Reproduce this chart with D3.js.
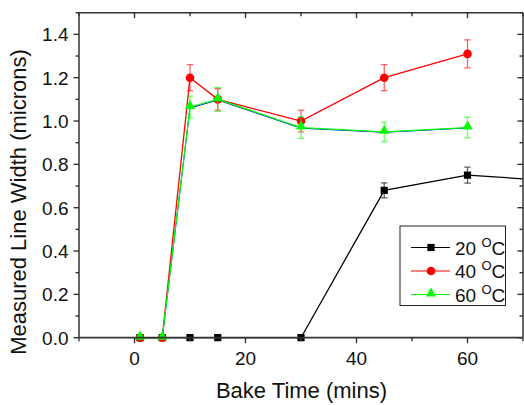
<!DOCTYPE html>
<html><head><meta charset="utf-8">
<script src="https://cdn.jsdelivr.net/npm/d3@7"></script>
<style>
body{margin:0;background:#fff;}
svg{display:block;font-family:Arial,"Liberation Sans",sans-serif;}
</style></head>
<body><svg id="c" width="524" height="405"></svg>
<script>
const bakeTimes = [1, 5, 10, 15, 30, 45, 60, 90];
const series20 = [0, 0, 0, 0, 0, 0.68, 0.75, 0.70];
const err20 = [0, 0, 0, 0, 0, 0.035, 0.037, 0];
const series40 = [0, 0, 1.20, 1.10, 1.00, 1.20, 1.31];
const err40 = [0, 0, 0.06, 0.05, 0.05, 0.06, 0.065];
const series60 = [0, 0, 1.065, 1.10, 0.97, 0.95, 0.97];
const err60 = [0, 0, 0.05, 0.055, 0.05, 0.045, 0.048];
const seriesBlue = [0, 0, 1.06, 1.097, 0.967, 0.948, 0.968];
const xTicks = [0, 20, 40, 60];
const yTicks = [0.0, 0.2, 0.4, 0.6, 0.8, 1.0, 1.2, 1.4];
const legendLabels = ["20", "40", "60"];

const svg = d3.select("#c");
const L = 79, R = 523, T = 12.7, B = 337.7;
const x = d3.scaleLinear().domain([-10, 70]).range([L, R]);
const y = d3.scaleLinear().domain([0, 1.5]).range([B, T]);

svg.append("defs").append("clipPath").attr("id","clip")
  .append("rect").attr("x", L).attr("y", T - 10).attr("width", R - L).attr("height", B - T + 20);

const plot = svg.append("g").attr("clip-path","url(#clip)");

function mk(vals){ return vals.map((v,i)=>({x:bakeTimes[i], y:v})); }
const line = d3.line().x(d=>x(d.x)).y(d=>y(d.y));

const defs = [
  {vals:series20, err:err20, color:"#000000", shape:"square"},
  {vals:series40, err:err40, color:"#ff0000", shape:"circle"},
  {vals:seriesBlue, err:null, color:"#0000ff", shape:null},
  {vals:series60, err:err60, color:"#00ff00", shape:"triangle"}
];

defs.forEach(s=>{
  const d = mk(s.vals);
  plot.append("path").datum(d).attr("d", line).attr("fill","none")
    .attr("stroke", s.color).attr("stroke-width", s.shape ? 1.3 : 1);
  if (s.err) {
    const eg = plot.append("g").attr("stroke", s.color).attr("stroke-opacity", 0.6).attr("stroke-width", 1.3);
    d.forEach((p,i)=>{
      const e = s.err[i]; if(!e) return;
      const cx = x(p.x);
      eg.append("line").attr("x1",cx).attr("x2",cx).attr("y1",y(p.y+e)).attr("y2",y(p.y-e));
      eg.append("line").attr("x1",cx-3.3).attr("x2",cx+3.3).attr("y1",y(p.y+e)).attr("y2",y(p.y+e));
      eg.append("line").attr("x1",cx-3.3).attr("x2",cx+3.3).attr("y1",y(p.y-e)).attr("y2",y(p.y-e));
    });
  }
  if (s.shape) {
    const sym = s.shape==="square" ? d3.symbol(d3.symbolSquare, 52)
      : s.shape==="circle" ? d3.symbol(d3.symbolCircle, 58)
      : d3.symbol(d3.symbolTriangle, 46);
    plot.selectAll(null).data(d).enter().append("path")
      .attr("d", sym)
      .attr("transform", p=>`translate(${x(p.x)},${y(p.y) + (s.shape==="triangle"? -1:0)})`)
      .attr("fill", s.color);
  }
});

// axes
const axCol = "#333";
const xMinor = d3.range(-10, 71, 10);
const yMinor = d3.range(0, 1.51, 0.1);
const ax = svg.append("g").attr("stroke", axCol).attr("stroke-width", 1.4);
ax.append("line").attr("x1",L).attr("x2",R).attr("y1",B).attr("y2",B).attr("stroke-width",1.8);
ax.append("line").attr("x1",L).attr("x2",R).attr("y1",T).attr("y2",T).attr("stroke-width",1.5);
ax.append("line").attr("x1",L).attr("x2",L).attr("y1",T).attr("y2",B).attr("stroke-width",1.5);
ax.append("line").attr("x1",R).attr("x2",R).attr("y1",T).attr("y2",B).attr("stroke-width",1.5);
xMinor.forEach(v=>{
  const major = v % 20 === 0;
  const len = major ? 5.5 : 3.5;
  ax.append("line").attr("x1",x(v)).attr("x2",x(v)).attr("y1",B).attr("y2",B+len);
  ax.append("line").attr("x1",x(v)).attr("x2",x(v)).attr("y1",T).attr("y2",T+len);
});
yMinor.forEach(v=>{
  const major = Math.round(v*10) % 2 === 0;
  const len = major ? 5.5 : 3.5;
  ax.append("line").attr("x1",L).attr("x2",L-len).attr("y1",y(v)).attr("y2",y(v));
  ax.append("line").attr("x1",R).attr("x2",R-len).attr("y1",y(v)).attr("y2",y(v));
});

const lab = svg.append("g").attr("fill","#111").attr("font-size",19);
xTicks.forEach(v=>{
  lab.append("text").attr("x", x(v)).attr("y", 364.5).attr("text-anchor","middle").text(v);
});
yTicks.forEach(v=>{
  lab.append("text").attr("x", 68.5).attr("y", y(v)+6.8).attr("text-anchor","end").text(v.toFixed(1));
});
svg.append("text").attr("x", 301.5).attr("y", 397.5).attr("text-anchor","middle")
  .attr("font-size",22).attr("fill","#111").text("Bake Time (mins)");
svg.append("text").attr("transform","translate(26,202) rotate(-90)").attr("text-anchor","middle")
  .attr("font-size",22).attr("fill","#111").text("Measured Line Width (microns)");

// legend
const lg = svg.append("g");
lg.append("rect").attr("x",400).attr("y",226).attr("width",105.5).attr("height",79.5)
  .attr("fill","#fff").attr("stroke","#222").attr("stroke-width",1);
const legDefs = [defs[0], defs[1], defs[3]];
legDefs.forEach((s,i)=>{
  const cy = 247.5 + i*23.5;
  lg.append("line").attr("x1",411).attr("x2",450).attr("y1",cy).attr("y2",cy).attr("stroke",s.color).attr("stroke-width",1);
  const sym = s.shape==="square" ? d3.symbol(d3.symbolSquare, 52)
      : s.shape==="circle" ? d3.symbol(d3.symbolCircle, 58)
      : d3.symbol(d3.symbolTriangle, 46);
  lg.append("path").attr("d", sym).attr("transform",`translate(431,${cy + (s.shape==="triangle"?-1:0)})`).attr("fill",s.color);
  const t = lg.append("text").attr("x",455).attr("y",cy+7).attr("font-size",19).attr("fill","#111");
  t.append("tspan").text(legendLabels[i] + " ");
  t.append("tspan").attr("font-size",13).attr("dy",-8).text("O");
  t.append("tspan").attr("dy",8).text("C");
});
</script></body></html>
